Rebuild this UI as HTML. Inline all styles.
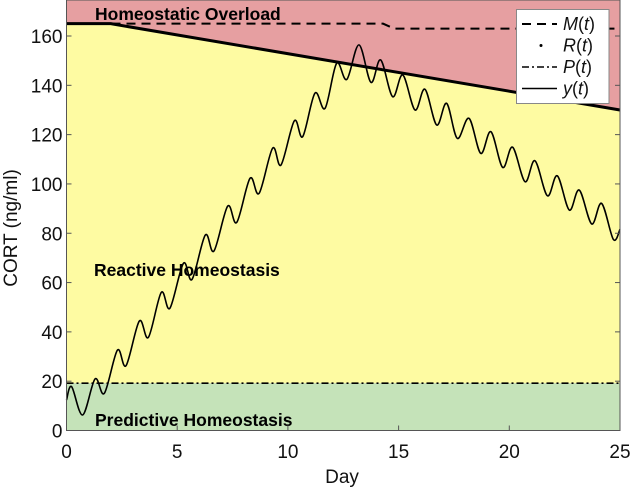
<!DOCTYPE html>
<html><head><meta charset="utf-8">
<style>
html,body{margin:0;padding:0;background:#fff;}
svg text{font-family:"Liberation Sans",Arial,sans-serif;}
</style></head>
<body>
<svg id="chart" width="630" height="490" viewBox="0 0 630 490" xmlns="http://www.w3.org/2000/svg"></svg>
<script>
// ---- data ----
const yT = [0,0.23,0.73,1.29,1.71,2.3,2.69,3.29,3.7,4.28,4.67,5.28,5.67,6.27,6.66,7.28,7.69,8.29,8.7,9.31,9.69,10.29,10.67,11.22,11.68,12.2,12.66,13.21,13.75,14.19,14.73,15.19,15.74,16.19,16.72,17.17,17.65,18.18,18.71,19.17,19.7,20.15,20.71,21.16,21.72,22.17,22.71,23.16,23.72,24.17,24.7,25];
const yV = [12.4,17.8,6.3,20.9,15.1,32.6,26.3,44.4,37.8,56,49.6,67.8,61.3,79.3,72.8,91,84.4,102.3,96.2,114.5,107.7,125.6,119.2,136.8,130.7,148.9,142.4,156.4,141.2,150.3,135.4,144.2,130,138.4,123.9,132.7,118.5,126.6,112.4,121.2,106.7,114.9,100.9,109.4,95.2,103.3,89.4,97.5,83.8,92.1,77.5,81.6];
const rT = [0,1.2,2,25];
const rV = [165,165,165,130];
const mT = [0,14.3,14.8,25];
const mV = [165,165,163,163];
const pT = [0,25];
const pV = [19.2,19.2];
const xTicks = [0,5,10,15,20,25];
const yTicks = [0,20,40,60,80,100,120,140,160];

// ---- axes ----
const X0=66.5, X1=620, Y0=430.5, YMAX=174.6;
const sx = t => X0 + (t/25)*(X1-X0);
const sy = v => Y0 - v*2.4656;
const NS="http://www.w3.org/2000/svg";
const svg=document.getElementById('chart');
function mk(tag,attrs,parent){const e=document.createElementNS(NS,tag);for(const k in attrs)e.setAttribute(k,attrs[k]);(parent||svg).appendChild(e);return e;}
function lin(T,V){return T.map((t,i)=>(i?'L':'M')+sx(t).toFixed(2)+','+sy(V[i]).toFixed(2)).join(' ');}
function smooth(T,V){
  const P=T.map((t,i)=>[sx(t),sy(V[i])]);
  let d='M'+P[0][0]+','+P[0][1];
  for(let i=0;i<P.length-1;i++){
    const p0=P[Math.max(0,i-1)],p1=P[i],p2=P[i+1],p3=P[Math.min(P.length-1,i+2)];
    const c1=[p1[0]+(p2[0]-p0[0])/6,p1[1]+(p2[1]-p0[1])/6];
    const c2=[p2[0]-(p3[0]-p1[0])/6,p2[1]-(p3[1]-p1[1])/6];
    d+=' C'+c1[0].toFixed(2)+','+c1[1].toFixed(2)+' '+c2[0].toFixed(2)+','+c2[1].toFixed(2)+' '+p2[0].toFixed(2)+','+p2[1].toFixed(2);
  }
  return d;
}
const plotTop=sy(YMAX);

let e;
e=mk('rect',{x:X0,y:plotTop,width:X1-X0,height:Y0-plotTop,fill:'#e69fa1'});


e=mk('path',{d:lin(rT,rV)+' L'+sx(25)+','+sy(pV[1])+' L'+sx(0)+','+sy(pV[0])+' Z',fill:'#fefba2'});


e=mk('path',{d:lin(pT,pV)+' L'+sx(25)+','+Y0+' L'+sx(0)+','+Y0+' Z',fill:'#c5e3b9'});



const lbls=[['Homeostatic Overload',95,20,'overload-label'],['Reactive Homeostasis',94,276,'reactive-label'],['Predictive Homeostasis',95,426,'predictive-label']];
lbls.forEach(l=>{e=mk('text',{x:l[1],y:l[2],'font-size':'17.5','font-weight':'bold',fill:'#000'});e.textContent=l[0];

});

e=mk('path',{d:lin(mT,mV),fill:'none',stroke:'#000','stroke-width':2,'stroke-dasharray':'9,6'});


e=mk('path',{d:lin(rT,rV),fill:'none',stroke:'#000','stroke-width':3});


e=mk('path',{d:lin(pT,pV),fill:'none',stroke:'#000','stroke-width':1.6,'stroke-dasharray':'7,3,2,3'});


e=mk('path',{d:smooth(yT,yV),fill:'none',stroke:'#000','stroke-width':1.6});



e=mk('rect',{x:X0,y:plotTop,width:X1-X0,height:Y0-plotTop,fill:'none',stroke:'#555','stroke-width':1});



xTicks.forEach(t=>{
  e=mk('line',{x1:sx(t),x2:sx(t),y1:Y0,y2:Y0-5,stroke:'#555'});
  
  
  e=mk('text',{x:sx(t),y:458,'font-size':'19','text-anchor':'middle',fill:'#111'});e.textContent=t;
  
  
});
yTicks.forEach(v=>{
  e=mk('line',{x1:X0,x2:X0+5,y1:sy(v),y2:sy(v),stroke:'#555'});
  
  
  e=mk('line',{x1:X1,x2:X1-5,y1:sy(v),y2:sy(v),stroke:'#555'});
  
  
  e=mk('text',{x:X0-4,y:sy(v)+7,'font-size':'19','text-anchor':'end',fill:'#111'});e.textContent=v;
  
  
});
e=mk('text',{x:342,y:483,'font-size':'19','text-anchor':'middle',fill:'#111'});e.textContent='Day';


e=mk('text',{x:0,y:0,'font-size':'19','text-anchor':'middle',fill:'#111',transform:'translate(17,228) rotate(-90)'});e.textContent='CORT (ng/ml)';



const lg=mk('g',{});


mk('rect',{x:516.5,y:9.5,width:92.5,height:94,fill:'#fff',stroke:'#888','stroke-width':1},lg);
const ents=[['M','m','9,6'],['R','r','dot'],['P','p','7,3,2,3'],['y','y','']];
ents.forEach((en,i)=>{
  const yy=24+i*21.5;
  const g=mk('g',{},lg);
  
  
  if(en[2]==='dot') mk('circle',{cx:541,cy:yy,r:1.5,fill:'#000'},g);
  else { const a={x1:522,x2:557,y1:yy,y2:yy,stroke:'#000','stroke-width':en[1]==='m'?2:1.6}; if(en[2])a['stroke-dasharray']=en[2]; mk('line',a,g);}
  const tx=mk('text',{x:563,y:yy+6,'font-size':'18','font-family':'Liberation Serif, serif',fill:'#111'},g);
  const t1=mk('tspan',{'font-style':'italic'},tx); t1.textContent=en[0];
  const t2=mk('tspan',{},tx); t2.textContent='(';
  const t3=mk('tspan',{'font-style':'italic'},tx); t3.textContent='t';
  const t4=mk('tspan',{},tx); t4.textContent=')';
});
</script>
</body></html>
